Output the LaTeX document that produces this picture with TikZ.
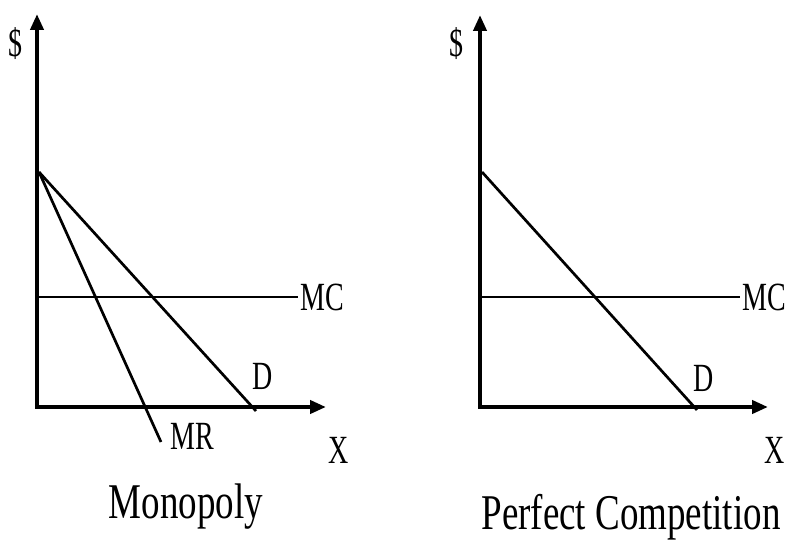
\documentclass[tikz,border=0pt]{standalone}
\usepackage{fontspec}
\setmainfont{Liberation Serif}
\usetikzlibrary{arrows.meta}
\newcommand{\sqz}[1]{\scalebox{0.7}[1]{#1}}
\newcommand{\sqt}[1]{\scalebox{0.74}[1]{#1}}
\tikzset{
  axis/.style={line width=4.3pt, {Triangle[length=16pt,width=13pt]}-{Triangle[length=16pt,width=13pt]}},
  curve/.style={line width=2.7pt},
  lbl/.style={inner sep=0pt, font=\fontsize{40}{44}\selectfont},
  ttl/.style={inner sep=0pt, anchor=base, font=\fontsize{50}{54}\selectfont}
}
\begin{document}
\begin{tikzpicture}[x=1pt,y=-1pt]
\useasboundingbox (0,0) rectangle (786,543);
% ---------- Monopoly ----------
\coordinate (Oa) at (37,407);
\coordinate (Ya) at (37,14);
\coordinate (Xa) at (326,407);
\coordinate (Pa) at (39,172);
\coordinate (Da) at (256,411);
\coordinate (Ra) at (161,442);
\coordinate (MCa0) at (37,297);
\coordinate (MCa1) at (298,297);
\draw[axis] (Ya) -- (Oa) -- (Xa);
\draw[curve] (Pa) -- (Da);
\draw[curve] (Pa) -- (Ra);
\draw[curve] (MCa0) -- (MCa1);
\node[lbl] (dola) at (16,44) {\sqz{\$}};
\node[lbl, anchor=west] (mca) at ([xshift=2pt]MCa1) {\sqz{MC}};
\node[lbl] (dlba) at (263,376) {\sqz{D}};
\node[lbl] (mra) at (192,436) {\sqz{MR}};
\node[lbl] (xa) at (339,450) {\sqz{X}};
\node[ttl] (ta) at (186,518) {\sqt{Monopoly}};
% ---------- Perfect Competition ----------
\coordinate (Ob) at (480,407);
\coordinate (Yb) at (480,15);
\coordinate (Xb) at (768,407);
\coordinate (Pb) at (482,172);
\coordinate (Db) at (697,410);
\coordinate (MCb0) at (480,297);
\coordinate (MCb1) at (740,297);
\draw[axis] (Yb) -- (Ob) -- (Xb);
\draw[curve] (Pb) -- (Db);
\draw[curve] (MCb0) -- (MCb1);
\node[lbl] (dolb) at (456,44) {\sqz{\$}};
\node[lbl, anchor=west] (mcb) at ([xshift=2pt]MCb1) {\sqz{MC}};
\node[lbl] (dlbb) at (704,378) {\sqz{D}};
\node[lbl] (xb) at (775,450) {\sqz{X}};
\node[ttl] (tb) at (631,529) {\sqt{Perfect Competition}};
\end{tikzpicture}
\end{document}
